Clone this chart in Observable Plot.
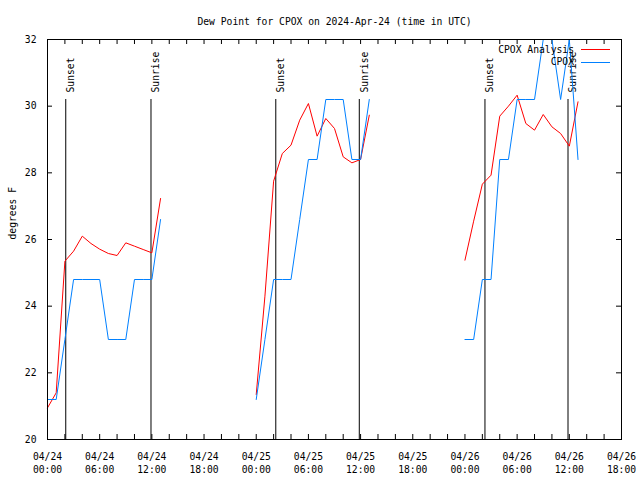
<!DOCTYPE html>
<html>
<head>
<meta charset="utf-8">
<script src="https://cdn.jsdelivr.net/npm/d3@7"></script>
<script src="https://cdn.jsdelivr.net/npm/@observablehq/plot@0.6"></script>
<style>
  body { margin: 0; background: #fff; }
  #wrap { position: relative; width: 640px; height: 480px; font-family: "DejaVu Sans Mono", monospace; font-size: 9.7px; }
  .lg-text { position: absolute; left: 0; width: 574px; text-align: right; height: 12px; line-height: 12px; color: #000; }
  .lg-line { position: absolute; left: 581px; width: 29px; height: 0; }
</style>
</head>
<body>
<div id="wrap"></div>
<script>
// ---- Data (hours after 2024-04-24 00:00 UTC) ----
const titleText = "Dew Point for CPOX on 2024-Apr-24 (time in UTC)";
const yLabel = "degrees F";
const seriesNames = ["CPOX Analysis", "CPOX"];
const seriesColors = ["#ff0000", "#0080ff"];

const periodStartHours = [0, 24, 48];

const analysisValues = [
  [20.95, 21.4, 25.35, 25.65, 26.1, 25.88, 25.71, 25.58, 25.52, 25.9, 25.8, 25.7, 25.6, 27.23],
  [21.35, 24.3, 27.75, 28.58, 28.83, 29.58, 30.08, 29.1, 29.63, 29.33, 28.48, 28.3, 28.4, 29.73],
  [25.38, 26.55, 27.66, 27.93, 29.7, 30.0, 30.33, 29.48, 29.28, 29.75, 29.38, 29.18, 28.8, 30.13]
];

const obsValues = [
  [21.2, 21.2, 23.0, 24.8, 24.8, 24.8, 24.8, 23.0, 23.0, 23.0, 24.8, 24.8, 24.8, 26.6],
  [21.2, 23.0, 24.8, 24.8, 24.8, 26.6, 28.4, 28.4, 30.2, 30.2, 30.2, 28.4, 28.4, 30.2],
  [23.0, 23.0, 24.8, 24.8, 28.4, 28.4, 30.2, 30.2, 30.2, 32.0, 32.0, 30.2, 32.0, 28.4]
];

const sunHours = [2.1, 11.9, 26.25, 35.85, 50.3, 59.85];
const sunLabels = ["Sunset", "Sunrise", "Sunset", "Sunrise", "Sunset", "Sunrise"];

const yTicks = [20, 22, 24, 26, 28, 30, 32];
const xLabelHours = [0, 6, 12, 18, 24, 30, 36, 42, 48, 54, 60, 66];
const xMinorHours = d3.range(0, 67, 2);

// ---- Build tables ----
const t0 = Date.UTC(2024, 3, 24);
const toDate = h => new Date(t0 + h * 3600e3);

function buildSeries(values) {
  const rows = [];
  values.forEach((arr, p) => {
    arr.forEach((v, i) => rows.push({time: toDate(periodStartHours[p] + i), value: v, period: p}));
  });
  return rows;
}
const analysisData = buildSeries(analysisValues);
const obsData = buildSeries(obsValues);
const sunData = sunHours.map((h, i) => ({time: toDate(h), label: sunLabels[i]}));

const fmtDay = d3.utcFormat("%m/%d");
const fmtTime = d3.utcFormat("%H:%M");

const innerH = 480 - 39 - 41;
const innerW = 640 - 47 - 19;

const chart = Plot.plot({
  width: 640,
  height: 480,
  marginLeft: 47,
  marginRight: 19,
  marginTop: 39,
  marginBottom: 41,
  style: {fontFamily: "DejaVu Sans Mono, monospace", fontSize: "9.7px", color: "#000", background: "#fff"},
  x: {type: "utc", domain: [toDate(0), toDate(66)]},
  y: {domain: [20, 32]},
  marks: [
    Plot.axisY({ticks: yTicks, tickSize: 0, tickPadding: 11, label: null, tickFormat: d => String(d)}),
    Plot.axisX({ticks: xLabelHours.map(toDate), tickSize: 0, tickPadding: 12, label: null,
      tickFormat: d => fmtDay(d) + "\n" + fmtTime(d), lineHeight: 1.3}),
    Plot.tickX(xMinorHours.map(toDate), {x: d => d, insetTop: innerH - 5, stroke: "#000"}),
    Plot.tickX(xMinorHours.map(toDate), {x: d => d, insetBottom: innerH - 5, stroke: "#000"}),
    Plot.tickY(yTicks, {y: d => d, insetRight: innerW - 5, stroke: "#000"}),
    Plot.tickY(yTicks, {y: d => d, insetLeft: innerW - 5, stroke: "#000"}),
    Plot.ruleX(sunData, {x: "time", insetTop: 60, stroke: "#000", strokeWidth: 1}),
    Plot.text(sunData, {x: "time", text: "label", frameAnchor: "top", rotate: -90, textAnchor: "start", dy: 53, dx: 1.5, fill: "#000"}),
    Plot.line(analysisData, {x: "time", y: "value", z: "period", stroke: seriesColors[0], strokeWidth: 1}),
    Plot.line(obsData, {x: "time", y: "value", z: "period", stroke: seriesColors[1], strokeWidth: 1}),
    Plot.frame({stroke: "#000"}),
    Plot.text([titleText], {frameAnchor: "top", dy: -21, fill: "#000"}),
    Plot.text([yLabel], {frameAnchor: "left", dx: -35, rotate: -90, fill: "#000"})
  ]
});

const wrap = document.getElementById("wrap");
wrap.appendChild(chart);

// Legend (top-right, inside plot)
const legendRows = [{y: 49.5}, {y: 62}];
seriesNames.forEach((name, i) => {
  const t = document.createElement("div");
  t.className = "lg-text";
  t.style.top = (legendRows[i].y - 6) + "px";
  t.textContent = name;
  wrap.appendChild(t);
  const l = document.createElement("div");
  l.className = "lg-line";
  l.style.top = Math.floor(legendRows[i].y) + "px";
  l.style.borderTop = "1px solid " + seriesColors[i];
  wrap.appendChild(l);
});
</script>
</body>
</html>
